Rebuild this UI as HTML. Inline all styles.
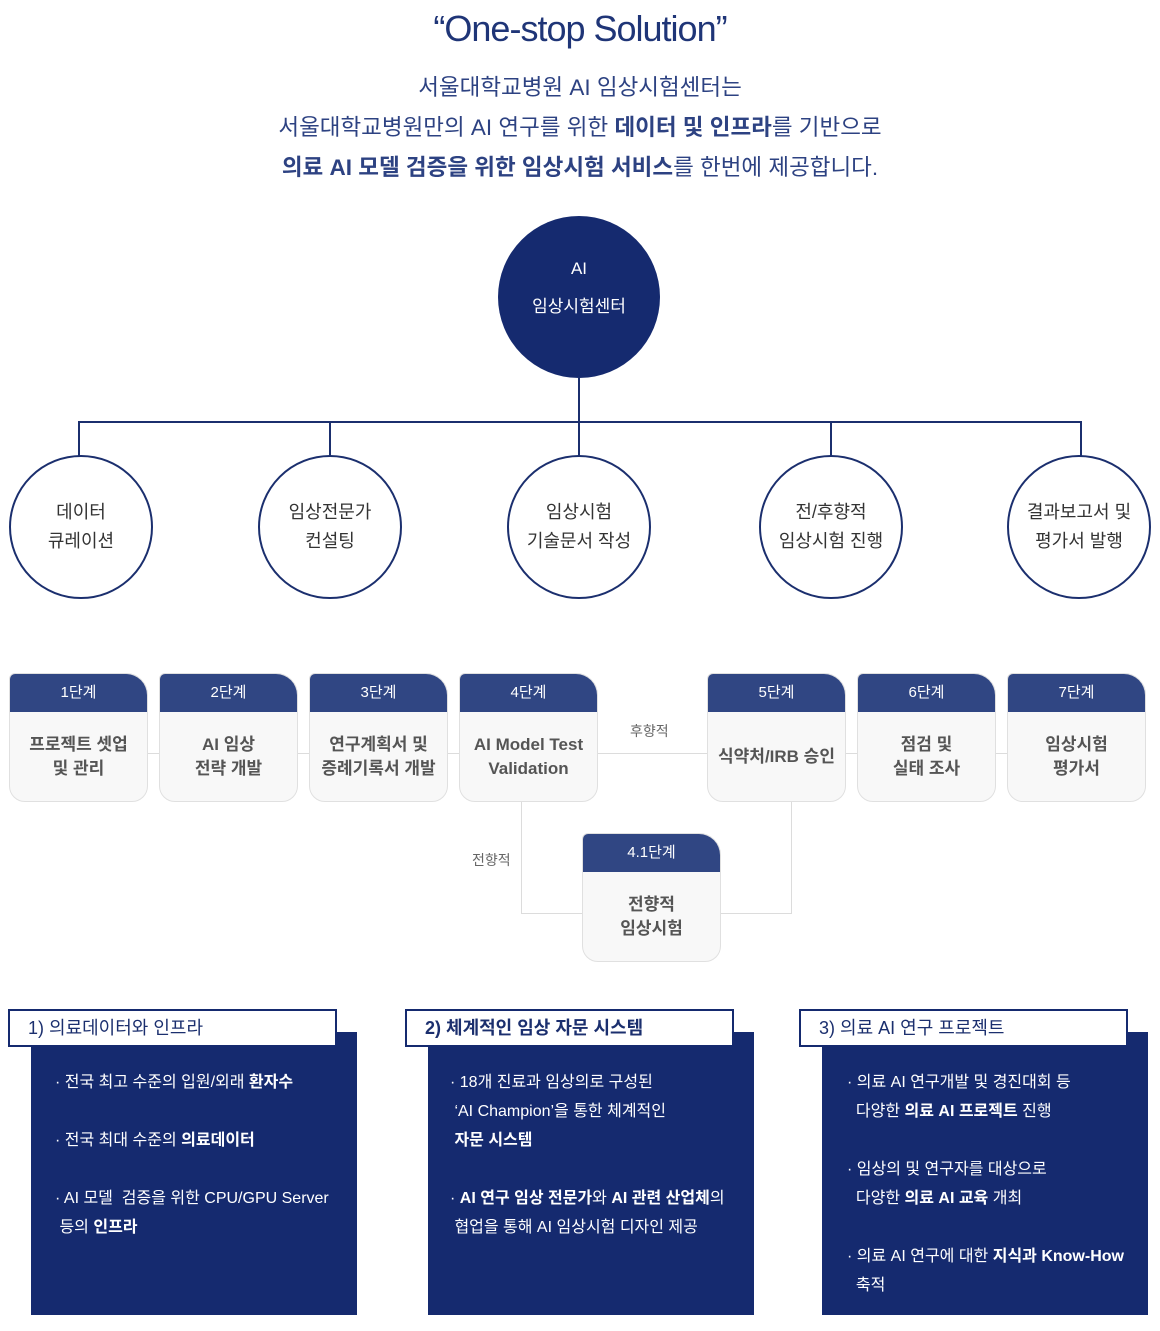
<!DOCTYPE html>
<html><head><meta charset="utf-8"><style>
*{margin:0;padding:0;box-sizing:border-box}
body{width:1160px;height:1331px;background:#fff;position:relative;overflow:hidden;font-family:"Liberation Sans","Noto Sans CJK KR",sans-serif}
.a{position:absolute}
.t{position:absolute;left:0;width:1160px;text-align:center;color:#2d4282;font-size:22.5px;white-space:nowrap}
.ln{position:absolute;background:#1b2f6e}
.gl{position:absolute;background:#dcdcdc}
.c{position:absolute;border:2px solid #1b2f6e;border-radius:50%;background:#fff;display:flex;align-items:center;justify-content:center;text-align:center;color:#333;font-size:18px;line-height:29px;white-space:nowrap}
.s{position:absolute;width:139px;height:129px;border:1px solid #e0e0e0;border-radius:6px 22px 16px 16px;background:#f8f8f8;overflow:hidden}
.s .h{height:38px;background:#304683;color:#fff;font-size:15px;text-align:center;line-height:38px}
.s .b{height:90px;display:flex;align-items:center;justify-content:center;text-align:center;color:#555;font-size:17px;line-height:24px;font-weight:bold;white-space:nowrap}
.lab{position:absolute;color:#666;font-size:14px}
.dk{position:absolute;background:#152a6f;width:326px;height:283px}
.hd{position:absolute;background:#fff;border:2px solid #152a6f;width:329px;height:38px;color:#1b2f6e;font-size:18px;line-height:34px;padding-left:18px}
.tx{position:absolute;color:#fff;font-size:16px;white-space:nowrap;line-height:29px}
.tx b{font-weight:bold}
</style></head><body>
<div class="t" style="top:8px;font-size:36px;color:#1f3577;letter-spacing:-1px">“One-stop Solution”</div>
<div class="t" style="top:70px">서울대학교병원 AI 임상시험센터는</div>
<div class="t" style="top:110px">서울대학교병원만의 AI 연구를 위한 <b>데이터 및 인프라</b>를 기반으로</div>
<div class="t" style="top:150px"><b>의료 AI 모델 검증을 위한 임상시험 서비스</b>를 한번에 제공합니다.</div>

<div class="a" style="left:498px;top:216px;width:162px;height:162px;border-radius:50%;background:#152a6f;color:#fff;text-align:center;font-size:17px;line-height:38px;padding-top:34px">AI<br>임상시험센터</div>
<div class="ln" style="left:578px;top:378px;width:2px;height:45px"></div>
<div class="ln" style="left:78px;top:421px;width:1004px;height:2px"></div>
<div class="ln" style="left:78px;top:421px;width:2px;height:36px"></div>
<div class="ln" style="left:329px;top:421px;width:2px;height:36px"></div>
<div class="ln" style="left:578px;top:421px;width:2px;height:36px"></div>
<div class="ln" style="left:830px;top:421px;width:2px;height:36px"></div>
<div class="ln" style="left:1080px;top:421px;width:2px;height:36px"></div>
<div class="c" style="left:9px;top:455px;width:144px;height:144px">데이터<br>큐레이션</div>
<div class="c" style="left:258px;top:455px;width:144px;height:144px">임상전문가<br>컨설팅</div>
<div class="c" style="left:507px;top:455px;width:144px;height:144px">임상시험<br>기술문서 작성</div>
<div class="c" style="left:759px;top:455px;width:144px;height:144px">전/후향적<br>임상시험 진행</div>
<div class="c" style="left:1007px;top:455px;width:144px;height:144px">결과보고서 및<br>평가서 발행</div>

<div class="gl" style="left:148px;top:753px;width:860px;height:1px"></div>
<div class="gl" style="left:521px;top:801px;width:1px;height:113px"></div>
<div class="gl" style="left:521px;top:913px;width:62px;height:1px"></div>
<div class="gl" style="left:721px;top:913px;width:71px;height:1px"></div>
<div class="gl" style="left:791px;top:801px;width:1px;height:113px"></div>
<div class="lab" style="left:630px;top:721px">후향적</div>
<div class="lab" style="left:472px;top:850px">전향적</div>

<div class="s" style="left:9px;top:673px"><div class="h">1단계</div><div class="b">프로젝트 셋업<br>및 관리</div></div>
<div class="s" style="left:159px;top:673px"><div class="h">2단계</div><div class="b">AI 임상<br>전략 개발</div></div>
<div class="s" style="left:309px;top:673px"><div class="h">3단계</div><div class="b">연구계획서 및<br>증례기록서 개발</div></div>
<div class="s" style="left:459px;top:673px"><div class="h">4단계</div><div class="b">AI Model Test<br>Validation</div></div>
<div class="s" style="left:707px;top:673px"><div class="h">5단계</div><div class="b">식약처/IRB 승인</div></div>
<div class="s" style="left:857px;top:673px"><div class="h">6단계</div><div class="b">점검 및<br>실태 조사</div></div>
<div class="s" style="left:1007px;top:673px"><div class="h">7단계</div><div class="b">임상시험<br>평가서</div></div>
<div class="s" style="left:582px;top:833px"><div class="h">4.1단계</div><div class="b">전향적<br>임상시험</div></div>

<div class="dk" style="left:31px;top:1032px"></div>
<div class="hd" style="left:8px;top:1009px">1) 의료데이터와 인프라</div>
<div class="tx" style="left:55px;top:1068px">· 전국 최고 수준의 입원/외래 <b>환자수</b></div>
<div class="tx" style="left:55px;top:1126px">· 전국 최대 수준의 <b>의료데이터</b></div>
<div class="tx" style="left:55px;top:1184px">· AI 모델&nbsp; 검증을 위한 CPU/GPU Server<br>&nbsp;등의 <b>인프라</b></div>

<div class="dk" style="left:428px;top:1032px"></div>
<div class="hd" style="left:405px;top:1009px;font-weight:bold">2) 체계적인 임상 자문 시스템</div>
<div class="tx" style="left:450px;top:1068px">· 18개 진료과 임상의로 구성된<br>&nbsp;‘AI Champion’을 통한 체계적인<br>&nbsp;<b>자문 시스템</b></div>
<div class="tx" style="left:450px;top:1184px">· <b>AI 연구 임상 전문가</b>와 <b>AI 관련 산업체</b>의<br>&nbsp;협업을 통해 AI 임상시험 디자인 제공</div>

<div class="dk" style="left:822px;top:1032px"></div>
<div class="hd" style="left:799px;top:1009px">3) 의료 AI 연구 프로젝트</div>
<div class="tx" style="left:847px;top:1068px">· 의료 AI 연구개발 및 경진대회 등<br>&nbsp;&nbsp;다양한 <b>의료 AI 프로젝트</b> 진행</div>
<div class="tx" style="left:847px;top:1155px">· 임상의 및 연구자를 대상으로<br>&nbsp;&nbsp;다양한 <b>의료 AI 교육</b> 개최</div>
<div class="tx" style="left:847px;top:1242px">· 의료 AI 연구에 대한 <b>지식과 Know-How</b><br>&nbsp;&nbsp;축적</div>
</body></html>
